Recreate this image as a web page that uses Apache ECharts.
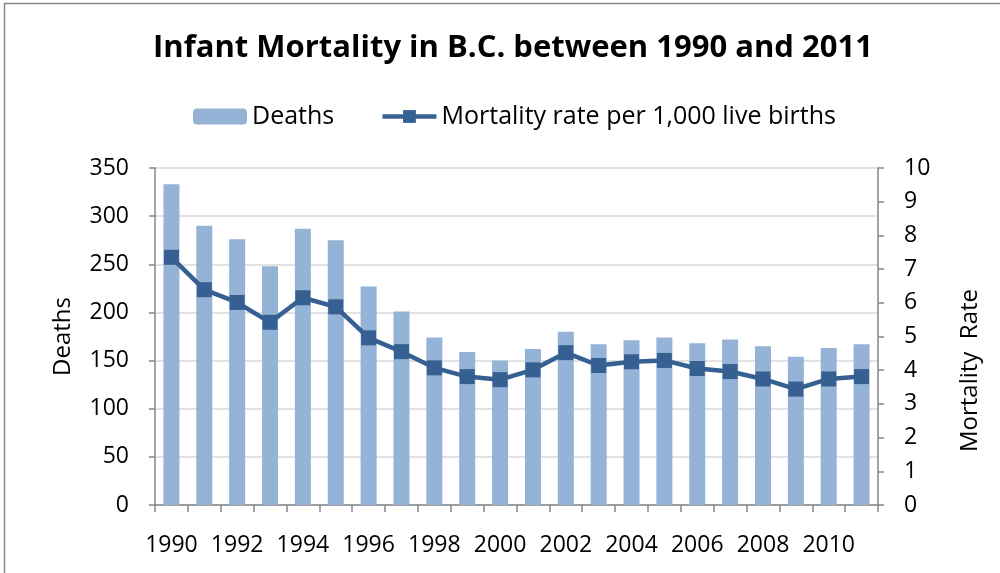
<!DOCTYPE html>
<html>
<head>
<meta charset="utf-8">
<script src="https://cdn.jsdelivr.net/npm/echarts@6/dist/echarts.min.js"></script>
<style>
  html, body { margin: 0; padding: 0; background: #fff; }
  #chart { width: 1000px; height: 573px; }
</style>
</head>
<body>
<div id="chart"></div>
<script>
const years = ['1990','1991','1992','1993','1994','1995','1996','1997','1998','1999','2000','2001','2002','2003','2004','2005','2006','2007','2008','2009','2010','2011'];
const deaths = [333,290,276,248,287,275,227,201,174,159,150,162,180,167,171,174,168,172,165,154,163,167];
const rates = [7.35,6.39,6.01,5.42,6.15,5.88,4.96,4.55,4.07,3.81,3.72,4.01,4.52,4.14,4.25,4.29,4.05,3.96,3.74,3.44,3.74,3.81];

const FONT = '"Open Sans", "Noto Sans", sans-serif';
const chart = echarts.init(document.getElementById('chart'), null, { renderer: 'canvas' });
chart.setOption({
  animation: false,
  backgroundColor: '#fff',
  graphic: [{
    type: 'rect',
    shape: { x: 4.5, y: 3.5, width: 1200, height: 1000 },
    style: { fill: 'none', stroke: '#888', lineWidth: 1.5 },
    silent: true
  }],
  title: {
    text: 'Infant Mortality in B.C. between 1990 and 2011',
    left: 508, top: 28, textAlign: 'center',
    textStyle: { fontFamily: FONT, fontWeight: 'bold', fontSize: 31, color: '#000' }
  },
  legend: {
    left: 188, top: 99,
    itemWidth: 54, itemHeight: 16, itemGap: 46,
    textStyle: { fontFamily: FONT, fontSize: 25, color: '#000' },
    data: [
      { name: 'Deaths' },
      { name: 'Mortality rate per 1,000 live births', lineStyle: { width: 4.5, color: '#376092' } }
    ]
  },
  grid: { left: 155, right: 122, top: 168, bottom: 68, containLabel: false },
  xAxis: {
    type: 'category', data: years,
    axisLine: { lineStyle: { color: '#868686', width: 1.5 } },
    axisTick: { show: true, interval: 0, length: 7, lineStyle: { color: '#868686', width: 1.5 } },
    axisLabel: { interval: 1, margin: 29, fontFamily: FONT, fontSize: 23, color: '#000' }
  },
  yAxis: [{
    type: 'value', min: 0, max: 350, interval: 50,
    name: 'Deaths', nameLocation: 'middle', nameGap: 80, nameRotate: 90,
    nameTextStyle: { fontFamily: FONT, fontSize: 24, color: '#000' },
    axisLine: { show: true, lineStyle: { color: '#868686', width: 1.5 } },
    axisTick: { show: true, length: 6, lineStyle: { color: '#868686', width: 1.5 } },
    axisLabel: { margin: 26, fontFamily: FONT, fontSize: 23, color: '#000' },
    splitLine: { lineStyle: { color: '#d9d9d9', width: 1.5 } }
  }, {
    type: 'value', min: 0, max: 10, interval: 1, position: 'right',
    name: 'Mortality  Rate', nameLocation: 'middle', nameGap: 80, nameRotate: 90,
    nameTextStyle: { fontFamily: FONT, fontSize: 24, color: '#000', padding: [0, 68, 0, 0] },
    axisLine: { show: true, lineStyle: { color: '#868686', width: 1.5 } },
    axisTick: { show: true, length: 6, lineStyle: { color: '#868686', width: 1.5 } },
    axisLabel: { margin: 26, fontFamily: FONT, fontSize: 23, color: '#000' },
    splitLine: { show: false }
  }],
  series: [{
    name: 'Deaths', type: 'bar', data: deaths, barWidth: 16,
    itemStyle: { color: '#95B3D7' }
  }, {
    name: 'Mortality rate per 1,000 live births', type: 'line', yAxisIndex: 1, data: rates,
    symbol: 'rect', symbolSize: 15,
    lineStyle: { color: '#376092', width: 4.5 },
    itemStyle: { color: '#376092' }
  }]
});
</script>
</body>
</html>
